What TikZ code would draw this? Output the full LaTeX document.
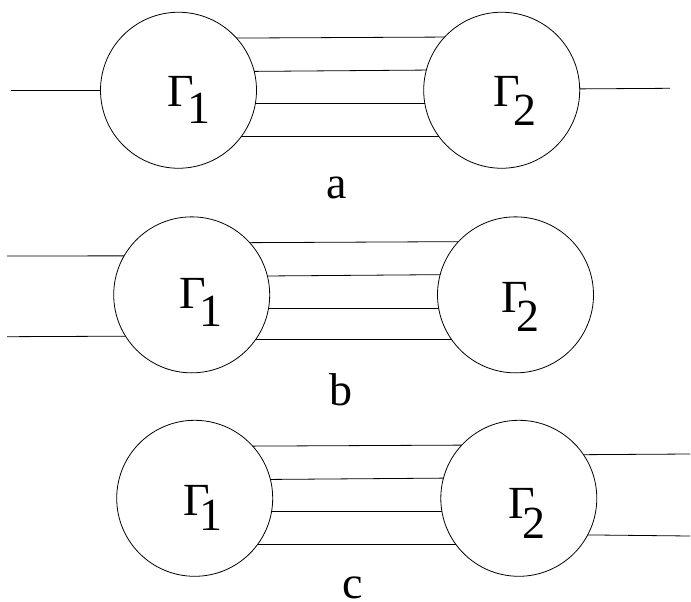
\documentclass[tikz,border=0pt]{standalone}
\usepackage{fontspec}
\setmainfont{Liberation Serif}
\newcommand\gsub[3]{Γ\kern#1pt\raisebox{-#2pt}{#3}}
\tikzset{
  blob/.style={circle,draw,minimum size=156pt,inner sep=0pt,outer sep=0pt,line width=0.8pt},
  lbl/.style={inner sep=0pt,anchor=base west,font=\fontsize{46}{50}\selectfont},
  captxt/.style={inner sep=0pt,anchor=base,font=\fontsize{46}{50}\selectfont},
  wire/.style={line width=0.8pt}
}
\begin{document}
\begin{tikzpicture}[x=1pt,y=-1pt]
\useasboundingbox (0,0) rectangle (691,602);
% ---- a ----
\node[blob] (a1) at (178.5,90.25) {};
\node[blob] (a2) at (501.7,90.25) {};
\node[lbl] (a1t) at (167,106.7) {\gsub{-6.4}{16.6}{1}};
\node[lbl] (a2t) at (493,106.7) {\gsub{-6.7}{18.3}{2}};
\coordinate (aL) at (11,90.25);
\coordinate (aR) at (670,88.3);
\draw[wire] (aL) -- (a1.west);
\draw[wire] (a2.1.4) -- (aR);
\foreach \t/\u in {42.3/137.7,14.3/165.7,-10.9/190.9,-36.6/216.6}
  \draw[wire] (a1.\t) -- (a2.\u);
\node[captxt] (la) at (336.5,198) {a};
% ---- b ----
\node[blob] (b1) at (191.7,294.85) {};
\node[blob] (b2) at (515.5,294.85) {};
\node[lbl] (b1t) at (179.5,308.3) {\gsub{-7.1}{18.4}{1}};
\node[lbl] (b2t) at (501.2,312.7) {\gsub{-11.8}{19}{2}};
\coordinate (bL1) at (7,256);
\coordinate (bL2) at (7,336.7);
\draw[wire] (bL1) -- (b1.150.1);
\draw[wire] (bL2) -- (b1.212.4);
\foreach \t/\u in {42.4/137.6,14.5/165.5,-10.3/190.3,-35.8/215.8}
  \draw[wire] (b1.\t) -- (b2.\u);
\node[captxt] (lb) at (341,405) {b};
% ---- c ----
\node[blob] (c1) at (194.7,498.3) {};
\node[blob] (c2) at (518.8,498.3) {};
\node[lbl] (c1t) at (182.8,515) {\gsub{-10.4}{15}{1}};
\node[lbl] (c2t) at (507.8,518.3) {\gsub{-11.7}{20}{2}};
\coordinate (cR1) at (690,454);
\coordinate (cR2) at (690,536);
\draw[wire] (c2.34.6) -- (cR1);
\draw[wire] (c2.-28.9) -- (cR2);
\foreach \t/\u in {42.6/137.4,14.3/165.7,-10.6/190.6,-36.1/216.1}
  \draw[wire] (c1.\t) -- (c2.\u);
\node[captxt] (lc) at (352.5,598) {c};
\end{tikzpicture}
\end{document}
